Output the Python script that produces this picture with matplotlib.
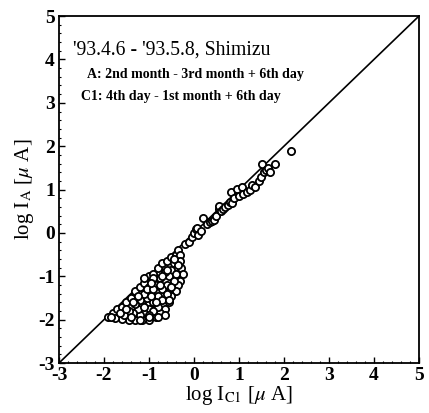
import matplotlib
matplotlib.use('Agg')
import matplotlib.pyplot as plt
from matplotlib.ticker import MultipleLocator

plt.rcParams['font.family'] = ['Liberation Serif', 'DejaVu Serif']
plt.rcParams['mathtext.fontset'] = 'stix'
plt.rcParams['axes.unicode_minus'] = False

# lower cluster (log I_C1, log I_A)
low_x = [-1.9, -1.8, -1.7, -1.6, -1.5, -1.4, -1.3, -1.2, -1.1, -1.0, -0.9, -0.8, -0.7, -0.6, -0.5, -0.4, -0.35,
         -0.3, -0.3, -0.28, -0.25, -0.3, -0.35, -0.4, -0.5, -0.55, -0.65, -0.75, -0.85,
         -1.0, -1.15, -1.3, -1.45, -1.6, -1.75, -1.85,
         -0.45, -0.5, -0.55, -0.6, -0.7, -0.8, -0.9, -1.0, -1.1, -1.2,
         -0.65, -0.75, -0.85, -0.95, -1.05, -1.15, -1.25, -1.35,
         -0.4, -0.45, -0.5, -0.6, -0.7, -0.8, -0.9, -1.0,
         -0.9, -1.0, -1.1, -1.2, -1.3, -1.45, -1.55, -1.1, -0.95, -0.75, -0.35,
         -1.65, -1.5, -1.35, -1.25, -1.05, -0.9, -0.7, -0.6, -0.45, -0.55, -0.65, -0.8,
         -1.4, -1.2, -1.0, -0.85, -0.95, -1.1]
low_y = [-1.95, -1.85, -1.75, -1.7, -1.6, -1.5, -1.35, -1.25, -1.15, -1.0, -0.95, -0.8, -0.7, -0.65, -0.55, -0.5, -0.4,
         -0.5, -0.65, -0.8, -0.95, -1.1, -1.2, -1.35, -1.45, -1.6, -1.75, -1.85, -1.95,
         -2.0, -2.0, -2.0, -2.0, -1.98, -1.97, -1.95,
         -0.7, -0.85, -1.0, -1.2, -1.3, -1.45, -1.6, -1.75, -1.85, -1.9,
         -0.9, -1.05, -1.2, -1.35, -1.5, -1.65, -1.75, -1.85,
         -0.95, -1.1, -1.25, -1.4, -1.55, -1.7, -1.8, -1.9,
         -1.05, -1.25, -1.4, -1.55, -1.65, -1.8, -1.9, -1.7, -1.45, -1.2, -0.75,
         -1.85, -1.75, -1.6, -1.45, -1.3, -1.3, -1.0, -0.85, -0.6, -1.55, -1.9, -1.95,
         -1.95, -2.0, -1.95, -1.6, -1.15, -1.05]

# upper band
up_x = [-0.2, -0.1, -0.05, 0.0, 0.05, 0.07, 0.1, 0.15, 0.2, 0.3, 0.35, 0.4, 0.45, 0.5, 0.55, 0.55, 0.6,
        0.65, 0.7, 0.75, 0.8, 0.85, 0.82, 0.95, 0.9, 1.0, 1.07, 1.1, 1.18, 1.25, 1.3, 1.35, 1.45,
        1.5, 1.52, 1.55, 1.6, 1.65, 1.7, 1.8, 2.15]
up_y = [-0.25, -0.2, -0.1, 0.0, 0.08, 0.12, -0.05, 0.05, 0.35, 0.2, 0.25, 0.28, 0.3, 0.4, 0.55, 0.62, 0.5,
        0.55, 0.6, 0.65, 0.72, 0.7, 0.95, 1.02, 0.8, 0.85, 1.07, 0.9, 0.95, 1.0, 1.1, 1.05, 1.2,
        1.3, 1.58, 1.4, 1.45, 1.5, 1.4, 1.58, 1.9]

fig = plt.figure(figsize=(4.29, 4.13), dpi=100)
ax = fig.add_axes([0.1375, 0.121, 0.839, 0.84])

ax.plot([-3, 5], [-3, 5], color='black', linewidth=1.2, zorder=1)
ax.plot(low_x + up_x, low_y + up_y, 'o', markersize=5.2, markerfacecolor='white',
        markeredgecolor='black', markeredgewidth=1.3, linestyle='none', zorder=2)

ax.set_xlim(-3, 5)
ax.set_ylim(-3, 5)
ax.xaxis.set_major_locator(MultipleLocator(1))
ax.yaxis.set_major_locator(MultipleLocator(1))
ax.xaxis.set_minor_locator(MultipleLocator(0.2))
ax.yaxis.set_minor_locator(MultipleLocator(0.2))
ax.tick_params(which='major', direction='in', length=4, width=1, labelsize=14, pad=3)
ax.tick_params(which='minor', direction='in', length=1.5, width=0.8)
for lab in ax.get_xticklabels() + ax.get_yticklabels():
    lab.set_fontweight('bold')
for s in ax.spines.values():
    s.set_linewidth(1.3)

ax.set_xlabel(r'log I$_{\mathrm{C1}}$ [$\mu$ A]', fontsize=15, labelpad=0)
ax.set_ylabel(r'log I$_{\mathrm{A}}$ [$\mu$ A]', fontsize=15, labelpad=2)

ax.text(-2.69, 4.22, "'93.4.6 - '93.5.8, Shimizu", fontsize=14.2, va='center', ha='left')
ax.text(-2.38, 3.65, "A: 2nd month - 3rd month + 6th day", fontsize=10, fontweight='bold',
        va='center', ha='left')
ax.text(-2.5, 3.15, "C1: 4th day - 1st month + 6th day", fontsize=10, fontweight='bold',
        va='center', ha='left')

fig.savefig('out.png', dpi=100)
